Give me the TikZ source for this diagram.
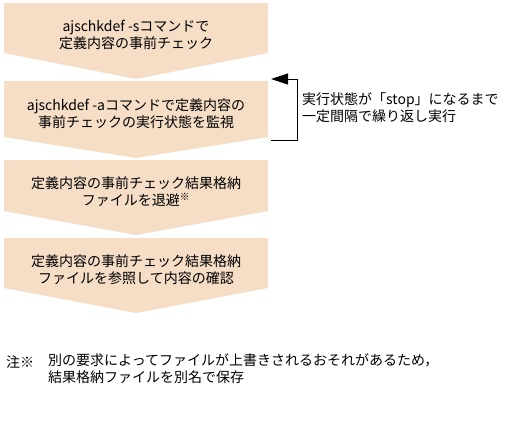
\documentclass[tikz,border=0pt]{standalone}
\usepackage{fontspec}
\setmainfont{Noto Sans CJK JP}
\usetikzlibrary{arrows.meta}
\definecolor{stepfill}{RGB}{245,221,198}

\begin{document}
\begin{tikzpicture}[x=1pt,y=-1pt, font=\fontsize{14}{17}\selectfont]
\tikzset{stepbox/.style={fill=stepfill, draw=none},
         steptext/.style={align=center, inner sep=0pt}}
\useasboundingbox (0,0) rectangle (508,426);
% chevron shaped steps
\fill[stepbox] (4,3) -- (268,3) -- (268,53) -- (136,79) -- (4,53) -- cycle;
\fill[stepbox] (4,81) -- (268,81) -- (268,137) -- (136,158) -- (4,137) -- cycle;
\fill[stepbox] (4,160) -- (268,160) -- (268,211) -- (136,235) -- (4,211) -- cycle;
\fill[stepbox] (4,238) -- (268,238) -- (268,288) -- (136,313) -- (4,288) -- cycle;
\node[steptext](s1) at (136,34.5){ajschkdef -sコマンドで\\定義内容の事前チェック};
\node[steptext](s2) at (136,113.5){ajschkdef -aコマンドで定義内容の\\事前チェックの実行状態を監視};
\node[steptext](s3) at (136,191.5){定義内容の事前チェック結果格納\\ファイルを退避\textsuperscript{※}};
\node[steptext](s4) at (136,270){定義内容の事前チェック結果格納\\ファイルを参照して内容の確認};
% loop back
\coordinate (lpfrom) at (271,140);
\coordinate (lpto) at (271,79);
\draw[-{Triangle[length=17pt,width=11pt]}, line width=1pt] (lpfrom) -- (297,140) -- (297,79) -- (lpto);
\node[anchor=west, align=left, inner sep=0pt](lp) at (302,108){実行状態が「stop」になるまで\\一定間隔で繰り返し実行};
% note
\node[anchor=west, inner sep=0pt](nm) at (6,362){注※};
\node[anchor=north west, align=left, inner sep=0pt](nt) at (48,353){別の要求によってファイルが上書きされるおそれがあるため，\\結果格納ファイルを別名で保存};
\end{tikzpicture}
\end{document}
